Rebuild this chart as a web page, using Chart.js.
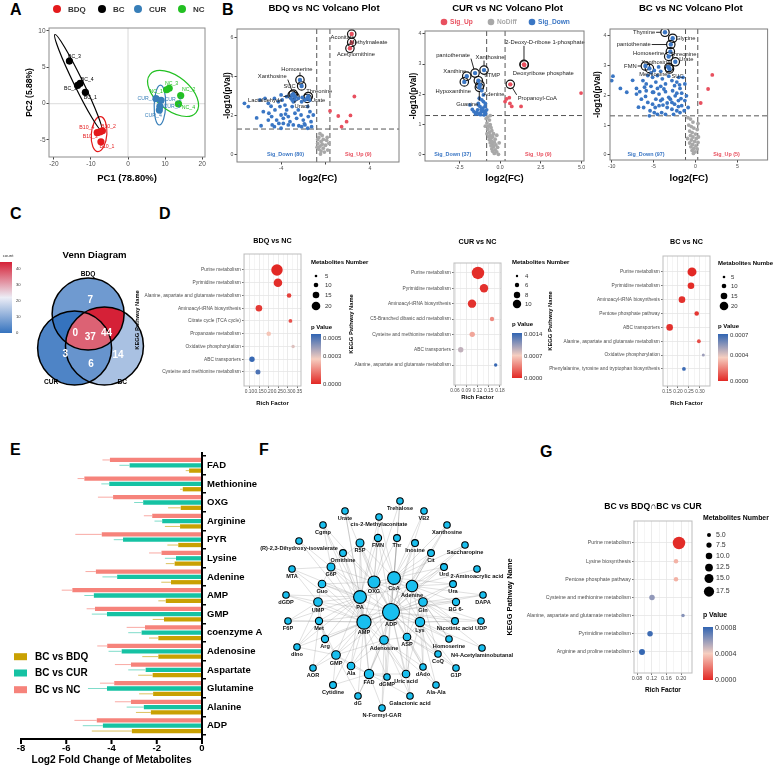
<!DOCTYPE html>
<html>
<head>
<meta charset="utf-8">
<title>Metabolomics figure</title>
<script src="https://cdn.jsdelivr.net/npm/chart.js@4.4.1/dist/chart.umd.min.js"></script>
<style>
  html, body { margin: 0; padding: 0; background: #fff; }
  #fig { position: relative; width: 773px; height: 768px; overflow: hidden; background: #fff; }
  #fig canvas { position: absolute; left: 0; top: 0; }
  .tag { position: absolute; font: bold 16px "Liberation Sans", Arial, sans-serif; line-height: 16px; color: #000; }
</style>
</head>
<body>
<div id="fig">
  <div class="tag" style="left:10px;top:2px">A</div>
  <div class="tag" style="left:222px;top:2px">B</div>
  <div class="tag" style="left:10px;top:206px">C</div>
  <div class="tag" style="left:159px;top:206px">D</div>
  <div class="tag" style="left:10px;top:442px">E</div>
  <div class="tag" style="left:259px;top:442px">F</div>
  <div class="tag" style="left:540px;top:444px">G</div>
</div>
<script>
// ---------------- data ----------------

// A: PCA scores
const pcaGroups = ['BDQ', 'BC', 'CUR', 'NC'];
const pcaNames = [['B10_1', 'B10_2', 'B10_3', 'B10_4'], ['BC_1', 'BC_2', 'BC_3', 'BC_4'], ['CUR_1', 'CUR_2', 'CUR_3', 'CUR_4'], ['NC_1', 'NC_2', 'NC_3', 'NC_4']];
const pcaPC1 = [[-7.3, -6.9, -8.3, -7.6], [-11.5, -13.6, -15.8, -12.9], [7.55, 8.9, 8.6, 8.45], [11.1, 14.2, 10.4, 13.6]];
const pcaPC2 = [[-5.25, -3.75, -4.0, -3.9], [1.55, 2.5, 5.85, 2.8], [0.68, 0.45, -0.37, -0.9], [2.1, 1.1, 1.9, -0.05]];
// confidence ellipses: centre x, centre y, semi-axis 1 (dx, dy), semi-axis 2 (dx, dy)
const pcaEllipse = [
  [-7.8, -4.2, 0.3, 2.4, 2.1, 0],
  [-13.4, 2.9, -6.3, 6.6, 1.09, 0.27],
  [8.6, -0.2, 0.15, 2.75, 1.55, 0],
  [12.15, 1.4, 6.2, -2.63, -2.94, -1.77]
];

// B: volcano plots  [log2FC, -log10 p]
const b1Down = [[-7.3,2.65],[-6.95,2.48],[-5.9,2.82],[-5.45,2.9],[-5.15,2.65],[-4.6,2.9],[-4.55,2.31],[-5.1,2.14],[-5.6,2.22],[-4.85,1.97],[-4.25,2.73],[-4.1,2.48],[-3.9,2.82],[-3.65,2.56],[-3.5,2.31],[-4.0,2.05],[-4.4,1.79],[-4.8,1.54],[-5.15,1.79],[-4.2,1.62],[-3.8,1.88],[-3.35,1.97],[-3.2,1.71],[-3.0,2.48],[-2.75,2.14],[-2.6,1.88],[-2.9,1.54],[-2.45,2.31],[-2.2,2.05],[-2.0,1.79],[-1.85,1.54],[-2.15,1.45],[-1.55,1.97],[-1.4,2.22],[-1.3,1.71],[-1.6,1.37],[-1.25,1.45],[-3.35,1.54],[-3.8,1.62],[-4.0,1.37],[-2.75,2.82],[-2.15,2.73],[-1.6,2.48],[-1.1,2.05],[-4.0,3.08],[-3.5,2.99],[-3.0,2.82],[-2.45,2.9],[-2.1,2.95],[-1.85,2.82],[-1.4,2.82],[-3.1,2.9],[-2.9,2.73],[-5.8,1.5],[-6.2,1.9],[-4.6,1.45],[-1.9,1.6],[-2.4,1.5],[-3.6,2.1],[-4.9,2.5]];
const b1Up = [[0.41,2.26],[1.15,2.0],[2.25,2.03],[1.9,1.71],[1.45,1.45],[2.6,3.0]];
const b1No = [[-0.5,1.1],[-0.3,1.0],[-0.6,0.9],[-0.2,0.8],[-0.4,0.7],[0.1,0.75],[-0.7,0.6],[-0.3,0.55],[-0.5,0.45],[0.0,0.5],[-0.2,0.35],[-0.6,0.3],[-0.4,0.2],[-0.1,0.15],[0.2,0.25],[-0.75,0.4],[0.3,0.6],[-0.7,0.8],[-0.45,0.05],[0.15,0.9]];
const b1Lab = [['Aconitate',2.36,6.2],['Methylmaleate',2.36,5.77],['Acetylornithine',2.2,5.47],['Homoserine',-2.3,3.85],['Xanthosine',-2.9,3.12],['SUC',-2.15,3.54],['Threonine',-1.55,3.0],['Urate',-1.65,2.9],['Uracil',-2.75,2.99],['Lactaldehyde',-3.0,3.07]];
const b1Nudge = [[-9,3],[17,0],[6,6],[-3,-11],[-21,-18],[-12,0],[11,-5],[11,2],[7,10],[-27,5]];

const b2Down = [[-1.27,1.87],[-1.12,1.82],[-1.02,1.76],[-1.33,1.65],[-1.23,1.6],[-1.06,1.54],[-0.92,1.6],[-1.37,1.49],[-1.12,1.43],[-0.92,1.4],[-1.23,1.38],[-1.43,1.4],[-1.84,1.65],[-1.02,1.98],[-1.12,2.12],[-1.33,1.7],[-0.82,1.49],[-1.6,1.43],[-0.98,1.32],[-1.5,1.35],[-1.7,1.5],[-0.9,1.7],[-1.15,1.5],[-1.3,1.35],[-1.0,1.45],[-1.2,1.33],[-0.88,1.36]];
const b2Up = [[4.97,2.04],[1.29,1.6],[0.57,1.89],[0.31,1.76],[0.61,1.7],[0.72,1.6],[0.4,1.85]];
const b2No = [[-0.75,1.25],[-0.65,1.15],[-0.8,1.05],[-0.6,1.0],[-0.7,0.95],[-0.55,0.9],[-0.75,0.85],[-0.5,0.8],[-0.65,0.75],[-0.4,0.7],[-0.6,0.65],[-0.7,0.6],[-0.45,0.6],[-0.55,0.55],[-0.3,0.52],[-0.65,0.5],[-0.5,0.45],[-0.35,0.42],[-0.6,0.4],[-0.45,0.35],[-0.25,0.33],[-0.55,0.3],[-0.4,0.27],[-0.15,0.25],[-0.5,0.2],[-0.3,0.17],[-0.45,0.12],[-0.2,0.1],[-0.35,0.05],[-0.1,0.02],[-0.8,0.7],[-0.9,0.95],[-0.05,0.4],[-0.2,0.65],[-0.85,1.2],[-0.6,1.3]];
const b2Lab = [['2-Deoxy-D-ribose 1-phosphate',1.47,2.99],['Deoxyribose phosphate',1.49,2.97],['Propanoyl-CoA',0.63,2.33],['Xanthosine',-0.98,2.8],['pantothenate',-1.53,2.7],['Xanthine',-2.04,2.6],['Hypoxanthine',-2.19,2.41],['dTMP',-1.33,2.45],['Adenine',-1.23,2.31],['Guanine',-1.27,2.23]];
const b2Nudge = [[21,-22],[19,8],[27,14],[6,-13],[-22,-18],[-12,-5],[-11,9],[14,-5],[14,9],[-12,17]];

const b3Down = [[-10.0,2.49],[-9.85,2.64],[-8.96,2.23],[-7.04,2.23],[-7.04,2.04],[-6.27,2.49],[-6.08,2.27],[-5.88,2.15],[-5.69,2.66],[-5.31,2.75],[-5.12,2.6],[-4.92,2.83],[-4.73,2.44],[-4.54,2.66],[-4.15,2.8],[-3.96,2.55],[-3.58,2.38],[-3.19,2.64],[-2.81,2.49],[-2.5,2.32],[-2.23,2.44],[-1.85,2.23],[-1.65,2.07],[-1.27,2.38],[-1.08,1.98],[-0.88,1.59],[-5.96,1.96],[-5.12,2.1],[-4.73,1.87],[-4.35,2.04],[-3.96,1.87],[-3.58,2.12],[-3.19,1.93],[-2.81,1.76],[-2.42,1.98],[-2.04,1.82],[-1.65,1.65],[-1.35,1.48],[-1.27,1.82],[-4.35,1.65],[-3.88,1.67],[-3.38,1.59],[-2.81,1.53],[-2.23,1.48],[-2.62,1.36],[-4.92,1.42],[-5.5,1.31],[-6.19,1.59],[-4.54,1.36],[-1.85,1.42],[-3.58,1.36],[-3.0,1.87],[-5.12,1.7],[-5.69,1.76],[-6.46,1.87],[-6.65,2.12],[-4.54,2.23],[-5.31,2.3],[-5.88,2.38],[-4.15,2.3],[-3.77,2.21],[-3.38,1.74],[-2.04,1.62],[-1.73,1.89],[-5.42,1.48],[-4.81,1.59],[-4.04,1.42],[-2.73,2.15],[-2.23,2.07],[-4.15,1.82],[-7.5,2.5],[-8.2,2.1],[-6.8,1.6],[-3.3,2.95],[-2.0,2.6],[-1.5,2.6],[-4.4,2.95],[-5.0,2.1],[-2.5,1.7],[-1.9,2.35]];
const b3Up = [[2.0,2.68],[1.5,2.21],[0.62,1.74]];
const b3No = [[-0.9,1.25],[-0.6,1.2],[-0.3,1.1],[0.3,1.05],[-0.8,1.0],[-0.5,0.95],[-0.2,0.9],[0.2,0.85],[-0.7,0.8],[-0.4,0.75],[0.0,0.7],[-0.6,0.65],[-0.3,0.6],[0.1,0.55],[-0.5,0.5],[-0.1,0.45],[0.3,0.42],[-0.7,0.4],[-0.35,0.35],[0.05,0.3],[-0.55,0.27],[-0.2,0.22],[0.2,0.2],[-0.4,0.15],[-0.05,0.1],[-0.25,0.05],[0.35,0.6],[-0.95,0.55]];
const b3Lab = [['Thymine',-3.64,4.11],['Glycine',-2.72,3.91],['pantothenate',-2.95,3.7],['Homoserine',-3.2,3.3],['Threonine',-3.0,3.46],['Urate',-2.41,3.12],['Xanthosine',-3.18,2.93],['FMN',-5.98,2.98],['Methionine',-5.5,2.9],['SUC',-3.1,2.88]];
const b3Nudge = [[-21,0],[13,0],[-37,0],[-20,-3],[13,3],[11,-2],[-13,-5],[-15,0],[4,6],[8,7]];

// C: Venn counts  (sets: BDQ, CUR, BC)
const vennSets = ['BDQ', 'CUR', 'BC'];
const vennRegions = [[0], [1], [2], [0, 1], [0, 2], [1, 2], [0, 1, 2]];
const vennCounts = [7, 3, 14, 0, 44, 6, 37];

// D: KEGG enrichment
const d1Path = ['Purine metabolism', 'Pyrimidine metabolism', 'Alanine, aspartate and glutamate metabolism', 'Aminoacyl-tRNA biosynthesis', 'Citrate cycle (TCA cycle)', 'Propanoate metabolism', 'Oxidative phosphorylation', 'ABC transporters', 'Cysteine and methionine metabolism'];
const d1Rich = [0.243, 0.248, 0.306, 0.149, 0.313, 0.200, 0.327, 0.113, 0.144];
const d1Num = [27, 20, 10, 15, 8, 10, 7, 12, 11];
const d1P = [0.00000, 0.00001, 0.00004, 0.00003, 0.00007, 0.00026, 0.00031, 0.00054, 0.00051];

const d2Path = ['Purine metabolism', 'Pyrimidine metabolism', 'Aminoacyl-tRNA biosynthesis', 'C5-Branched dibasic acid metabolism', 'Cysteine and methionine metabolism', 'ABC transporters', 'Alanine, aspartate and glutamate metabolism'];
const d2Rich = [0.1213, 0.1373, 0.1053, 0.1587, 0.106, 0.0752, 0.1685];
const d2Num = [14, 10, 10, 6, 7, 7, 5];
const d2P = [0.00002, 0.00004, 0.00005, 0.00042, 0.00055, 0.00092, 0.00142];

const d3Path = ['Purine metabolism', 'Pyrimidine metabolism', 'Aminoacyl-tRNA biosynthesis', 'Pentose phosphate pathway', 'ABC transporters', 'Alanine, aspartate and glutamate metabolism', 'Oxidative phosphorylation', 'Phenylalanine, tyrosine and tryptophan biosynthesis'];
const d3Rich = [0.2636, 0.259, 0.218, 0.285, 0.162, 0.295, 0.315, 0.227];
const d3Num = [21, 15, 15, 10, 15, 8, 6, 8];
const d3P = [0.00000, 0.00001, 0.00002, 0.00003, 0.00002, 0.00008, 0.00052, 0.00070];

// E: log2 fold change (mean, sd)
const eMetab = ['FAD', 'Methionine', 'OXG', 'Arginine', 'PYR', 'Lysine', 'Adenine', 'AMP', 'GMP', 'coenzyme A', 'Adenosine', 'Aspartate', 'Glutamine', 'Alanine', 'ADP'];
const eNC = [-4.07, -5.2, -3.93, -2.2, -4.43, -1.79, -4.69, -5.73, -4.73, -2.52, -4.19, -3.14, -3.88, -3.14, -4.65];
const eNCsd = [0.33, 0.3, 0.67, 0.37, 1.17, 0.55, 0.46, 0.47, 0.37, 0.81, 0.44, 0.71, 0.63, 0.71, 0.99];
const eCUR = [-3.2, -4.1, -2.6, -1.76, -3.49, -1.15, -3.75, -4.78, -4.2, -2.67, -3.55, -2.49, -4.2, -2.57, -4.38];
const eCURsd = [0.45, 0.35, 0.4, 0.34, 0.41, 0.49, 0.65, 0.42, 0.67, 0.59, 0.58, 0.77, 0.84, 0.76, 0.89];
const eBDQ = [-0.57, -0.85, -0.94, -0.97, -1.05, -1.21, -1.37, -1.6, -1.68, -1.93, -1.93, -2.18, -2.16, -2.26, -3.1];
const eBDQsd = [0.15, 0.12, 0.56, 0.67, 0.48, 0.39, 0.43, 0.33, 0.5, 0.41, 0.71, 0.64, 0.62, 0.66, 1.77];

// F: correlation network (layout position, node weight)
const fNames = ['Trehalose','Urate','VB2','cis-2-Methylaconitate','Cgmp','Xanthosine','(R)-2,3-Dihydroxy-isovalerate','R5P','FMN','Thr','Inosine','Saccharopine','Ornithine','Cit','G6P','MTA','Urd','2-Aminoacrylic acid','OXG','CoA','Adenine','Guo','Ura','dGDP','PA','DAPA','UMP','Gln','BG 6-','ADP','F6P','Met','AMP','Lys','Nicotinic acid','UDP','Arg','Adenosine','ASP','Homoserine','dIno','N4-Acetylaminobutanal','GMP','CoQ','AOR','Ala','dAdo','G1P','FAD','dGMP','Uric acid','Cytidine','Ala-Ala','dG','Galactonic acid','N-Formyl-GAR'];
const fX = [400,345,424,379,323,447,299,360,378,397,415,465,343,431,331,292,444,477,374,394,412,322,453,286,360,483,318,423,456,391,288,319,364,420,455,481,325,384,407,449,297,482,336,438,313,351,423,456,369,387,406,333,436,358,410,382];
const fY = [501,511,511,517,525,525,541,543,538,538,543,545,553,553,567,569,567,569,582,578,586,584,584,595,597,595,602,602,602,612,621,621,622,622,621,621,639,640,637,639,647,648,655,654,668,666,667,668,674,677,674,685,685,696,696,708];
const fWeight = [1,1,1,1,1,1,1,3,2,1.5,1.5,1,1.5,1.5,3,1,1.5,1,9,10,8,2.5,1.5,1,10,1,4,4,2,16,1,2,12,5,1.5,1,2,4,2.5,1,1,1,4,1,1,2.5,1,1,5,1,2.5,1.5,1,1,1,1];
const fEdges = {
  'ADP': ['AMP','PA','CoA','OXG','Adenine','Gln','Lys','Adenosine','ASP','GMP','FAD','UMP','Met','Guo','G6P','R5P','FMN','Thr','Inosine','Cit','Urd','Ura','BG 6-','Nicotinic acid','Homoserine','dAdo','Uric acid','dGMP','Ala','Arg','Trehalose','VB2','Xanthosine','Saccharopine','DAPA','UDP','G1P','CoQ','N-Formyl-GAR','Galactonic acid'],
  'AMP': ['PA','CoA','OXG','Adenine','Gln','Lys','Adenosine','GMP','FAD','UMP','Met','Guo','G6P','R5P','Ornithine','Arg','Ala','dIno','F6P','dGDP','AOR','Cytidine','dG','MTA','Cgmp','Urate','(R)-2,3-Dihydroxy-isovalerate','Uric acid','dGMP'],
  'PA': ['CoA','OXG','Adenine','UMP','Guo','G6P','R5P','Ornithine','Met','Arg','GMP','FAD','Ala','MTA','dGDP','F6P','Cgmp','Urate','cis-2-Methylaconitate','FMN','Adenosine','dIno'],
  'CoA': ['OXG','Adenine','Gln','Lys','FMN','Thr','Inosine','Cit','Trehalose','VB2','cis-2-Methylaconitate','Urd','Xanthosine','Saccharopine','Ura','ASP','Adenosine','R5P'],
  'OXG': ['Adenine','Gln','R5P','FMN','Thr','Ornithine','G6P','Guo','Urate','Cgmp','cis-2-Methylaconitate','Trehalose','Lys','ASP','Adenosine'],
  'Adenine': ['Gln','Lys','Inosine','Cit','Urd','Ura','2-Aminoacrylic acid','BG 6-','Xanthosine','Saccharopine','DAPA','Nicotinic acid','ASP','Homoserine'],
  'Gln': ['Lys','Ura','BG 6-','Nicotinic acid','UDP','DAPA','Homoserine','N4-Acetylaminobutanal','ASP','CoQ','dAdo'],
  'Lys': ['ASP','Homoserine','Nicotinic acid','N4-Acetylaminobutanal','CoQ','dAdo','G1P','Ala-Ala','Uric acid','UDP'],
  'Adenosine': ['ASP','FAD','GMP','Ala','dGMP','Uric acid','dAdo','Galactonic acid','N-Formyl-GAR','dG','Ala-Ala'],
  'GMP': ['Arg','Ala','FAD','AOR','Cytidine','dG','dIno','Met'],
  'UMP': ['Met','Guo','dGDP','F6P','MTA','Arg','dIno'],
  'FAD': ['Ala','dGMP','dG','N-Formyl-GAR','Cytidine','Uric acid','Galactonic acid'],
  'ASP': ['dAdo','Uric acid','CoQ','Ala-Ala','G1P','Galactonic acid'],
  'G6P': ['Guo','R5P','Ornithine','MTA','Cgmp','(R)-2,3-Dihydroxy-isovalerate'],
  'Met': ['Arg','F6P','dIno','AOR']
};

// G: shared enrichment
const gPath = ['Purine metabolism', 'Lysine biosynthesis', 'Pentose phosphate pathway', 'Cysteine and methionine metabolism', 'Alanine, aspartate and glutamate metabolism', 'Pyrimidine metabolism', 'Arginine and proline metabolism'];
const gRich = [0.1945, 0.1864, 0.1864, 0.1209, 0.2055, 0.1155, 0.0936];
const gNum = [22, 6, 6, 8, 4, 8, 9];
const gP = [0.00001, 0.00034, 0.00034, 0.00062, 0.00064, 0.00079, 0.00081];

// ---------------- helpers ----------------
const W = 773, H = 768;
const FF = '"Liberation Sans", Arial, Helvetica, sans-serif';
Chart.defaults.font.family = FF;
Chart.defaults.color = '#333';
Chart.defaults.animation = false;
Chart.defaults.responsive = false;
Chart.defaults.maintainAspectRatio = false;
Chart.defaults.events = [];
Chart.defaults.plugins.legend.display = false;
Chart.defaults.plugins.tooltip.enabled = false;

const fig = document.getElementById('fig');
function newCanvas() {
  const c = document.createElement('canvas');
  c.width = W; c.height = H;
  fig.appendChild(c);
  return c;
}
// place the plot area at page coords (l,t)-(r,b); yw / xh = axis box sizes
function pad(l, t, r, b, yw, xh) { return { padding: { left: l - yw, top: t, right: W - r, bottom: H - b - xh } }; }
const fitW = w => s => { s.width = w; s.paddingTop = 0; s.paddingBottom = 0; };
const fitH = h => s => { s.height = h; s.paddingLeft = 0; s.paddingRight = 0; };
const fnt = (size, bold) => (bold ? 'bold ' : '') + size + 'px ' + FF;
function txt(ctx, s, x, y, size, bold, color, align) {
  ctx.save();
  ctx.font = fnt(size, bold); ctx.fillStyle = color || '#000';
  ctx.textAlign = align || 'center'; ctx.textBaseline = 'middle';
  ctx.fillText(s, x, y);
  ctx.restore();
}
function frame(c, color) {
  const a = c.chartArea, ctx = c.ctx;
  ctx.save(); ctx.strokeStyle = color; ctx.lineWidth = 1;
  ctx.strokeRect(a.left, a.top, a.right - a.left, a.bottom - a.top);
  ctx.restore();
}
function dot(ctx, x, y, r, fill) { ctx.beginPath(); ctx.arc(x, y, r, 0, Math.PI * 2); ctx.fillStyle = fill; ctx.fill(); }
function ramp(stops, t) {
  t = Math.max(0, Math.min(1, t));
  for (let k = 1; k < stops.length; k++) {
    if (t <= stops[k][0]) {
      const [t0, c0] = stops[k - 1], [t1, c1] = stops[k], f = (t - t0) / (t1 - t0);
      return 'rgb(' + c0.map((v, i) => Math.round(v + (c1[i] - v) * f)).join(',') + ')';
    }
  }
  return 'rgb(' + stops[stops.length - 1][1].join(',') + ')';
}
const P_STOPS = [[0, [226, 40, 36]], [0.5, [246, 206, 192]], [1, [48, 100, 178]]];
const C_STOPS = [[0, [53, 115, 190]], [0.5, [236, 237, 246]], [1, [213, 33, 55]]];

function linX(o) {
  return {
    type: 'linear', min: o.min, max: o.max, afterFit: fitH(o.h),
    ticks: { stepSize: o.step, includeBounds: false, autoSkip: false, maxRotation: 0, font: { size: o.fs }, color: '#4d4d4d', padding: 0.5, callback: o.cb || (v => v) },
    grid: { drawOnChartArea: false, tickLength: 2.5, color: '#444' },
    border: { display: false },
    title: { display: true, text: o.title, color: '#000', font: { size: o.ts, weight: 'bold' }, padding: { top: 0, bottom: o.tpad } }
  };
}
function linY(o) {
  return {
    type: 'linear', min: o.min, max: o.max, afterFit: fitW(o.w),
    ticks: { stepSize: o.step, includeBounds: false, autoSkip: false, font: { size: o.fs }, color: '#4d4d4d', padding: 1 },
    grid: { drawOnChartArea: false, tickLength: 2.5, color: '#444' },
    border: { display: false },
    title: { display: true, text: o.title, color: '#000', font: { size: o.ts, weight: 'bold' }, padding: { top: o.tpad, bottom: 0 } }
  };
}

// ---------------- A: PCA ----------------
const pcaColors = ['#e41a1c', '#000000', '#377eb8', '#22c022'];
const pcaLabNudge = [[[6,5],[6,-4],[-7,4],[-13,-4]], [[5,5],[-7,3],[5,-4],[7,-4]], [[-10,0],[12,-1],[12,0],[-6,5]], [[-13,3],[8,-6],[5,-6],[10,4]]];
new Chart(newCanvas(), {
  type: 'scatter',
  data: { datasets: pcaGroups.map((g, i) => ({ label: g, data: pcaPC1[i].map((v, j) => ({ x: v, y: pcaPC2[i][j] })), backgroundColor: pcaColors[i], borderWidth: 0, pointRadius: 3.6 })) },
  options: {
    layout: pad(49, 28, 205, 157, 31, 31),
    scales: {
      x: linX({ min: -21.3, max: 20.75, step: 10, h: 31, title: 'PC1 (78.80%)', ts: 9.5, tpad: 4.3, fs: 6.5 }),
      y: linY({ min: -7.35, max: 10.4, step: 5, w: 31, title: 'PC2 (5.88%)', ts: 8.5, tpad: 7, fs: 6.5 })
    }
  },
  plugins: [{
    id: 'pca',
    beforeDatasetsDraw(c) {
      const { ctx, chartArea: a, scales: { x, y } } = c;
      ctx.save();
      ctx.strokeStyle = '#e2e2e2'; ctx.lineWidth = 1.3;
      const x0 = x.getPixelForValue(0), y0 = y.getPixelForValue(0);
      ctx.beginPath(); ctx.moveTo(x0, a.top); ctx.lineTo(x0, a.bottom); ctx.moveTo(a.left, y0); ctx.lineTo(a.right, y0); ctx.stroke();
      pcaEllipse.forEach((e, i) => {
        const cx = x.getPixelForValue(e[0]), cy = y.getPixelForValue(e[1]);
        const ux = x.getPixelForValue(e[0] + e[2]) - cx, uy = y.getPixelForValue(e[1] + e[3]) - cy;
        const vx = x.getPixelForValue(e[0] + e[4]) - cx, vy = y.getPixelForValue(e[1] + e[5]) - cy;
        ctx.save(); ctx.transform(ux, uy, vx, vy, cx, cy);
        ctx.beginPath(); ctx.arc(0, 0, 1, 0, Math.PI * 2);
        ctx.restore();
        ctx.strokeStyle = pcaColors[i]; ctx.lineWidth = 1.2; ctx.stroke();
      });
      ctx.restore();
    },
    afterDatasetsDraw(c) {
      const { ctx, scales: { x, y } } = c;
      pcaNames.forEach((g, i) => g.forEach((n, j) => {
        txt(ctx, n, x.getPixelForValue(pcaPC1[i][j]) + pcaLabNudge[i][j][0], y.getPixelForValue(pcaPC2[i][j]) + pcaLabNudge[i][j][1], 5.2, false, pcaColors[i]);
      }));
    },
    afterDraw(c) {
      frame(c, '#8c8c8c');
      const ctx = c.ctx, lx = [57, 102, 138, 182];
      pcaGroups.forEach((g, i) => { dot(ctx, lx[i], 9, 4, pcaColors[i]); txt(ctx, g, lx[i] + 11, 9.5, 8, true, '#333', 'left'); });
    }
  }]
});

// ---------------- B: volcano plots ----------------
const RED = '#e8505f', BLUE = '#3a76c4', GREY = '#a8a8a8';
function volcano(o) {
  const xy = arr => arr.map(p => ({ x: p[0], y: p[1] }));
  const labXY = o.lab.map(l => ({ x: l[1], y: l[2] }));
  new Chart(newCanvas(), {
    type: 'scatter',
    data: { datasets: [
      { data: xy(o.no), backgroundColor: GREY, pointRadius: 1.9, borderWidth: 0 },
      { data: xy(o.down), backgroundColor: BLUE, pointRadius: 1.9, borderWidth: 0 },
      { data: xy(o.up), backgroundColor: RED, pointRadius: 1.9, borderWidth: 0 },
      { data: labXY, backgroundColor: o.lab.map(l => l[1] > 0 ? RED : BLUE), pointRadius: 2.2, borderWidth: 0 },
      { data: labXY, backgroundColor: 'rgba(0,0,0,0)', borderColor: '#111', borderWidth: 1.2, pointRadius: 4.2 }
    ] },
    options: {
      layout: pad(o.l, o.t, o.r, o.b, o.yw, o.xh),
      scales: {
        x: linX({ min: o.xmin, max: o.xmax, step: o.xstep, h: o.xh, title: 'log2(FC)', ts: 9.5, tpad: o.xtp, fs: 5.2, cb: o.xcb }),
        y: linY({ min: o.ymin, max: o.ymax, step: o.ystep, w: o.yw, title: '-log10(pVal)', ts: 8.2, tpad: o.ytp, fs: 5.2 })
      }
    },
    plugins: [{
      id: 'volcano',
      beforeDatasetsDraw(c) {
        const { ctx, chartArea: a, scales: { x, y } } = c;
        ctx.save(); ctx.setLineDash([5, 3]); ctx.strokeStyle = '#555'; ctx.lineWidth = 1;
        ctx.beginPath();
        o.vlines.forEach(v => { const px = x.getPixelForValue(v); ctx.moveTo(px, a.top); ctx.lineTo(px, a.bottom); });
        const py = y.getPixelForValue(o.hline); ctx.moveTo(a.left, py); ctx.lineTo(a.right, py);
        ctx.stroke(); ctx.restore();
      },
      afterDatasetsDraw(c) {
        const { ctx, scales: { x, y } } = c;
        ctx.save(); ctx.font = fnt(5.8, false);
        o.lab.forEach((l, i) => {
          const px = x.getPixelForValue(l[1]), py = y.getPixelForValue(l[2]);
          const lx = px + o.nudge[i][0], ly = py + o.nudge[i][1];
          const w = ctx.measureText(l[0]).width;
          const ex = Math.max(lx - w / 2 - 1, Math.min(px, lx + w / 2 + 1)), ey = Math.max(ly - 3.5, Math.min(py, ly + 3.5));
          const d = Math.hypot(ex - px, ey - py);
          if (d > 6) {
            ctx.beginPath(); ctx.moveTo(px + (ex - px) * 4.2 / d, py + (ey - py) * 4.2 / d); ctx.lineTo(ex, ey);
            ctx.strokeStyle = '#111'; ctx.lineWidth = 0.9; ctx.stroke();
          }
          txt(ctx, l[0], lx, ly, 5.8, false, '#222');
        });
        ctx.restore();
        o.sig.forEach(s => txt(ctx, s[0], x.getPixelForValue(s[1]), y.getPixelForValue(s[2]), 5.4, true, s[3]));
      },
      afterDraw(c) {
        frame(c, '#7f7f7f');
        const a = c.chartArea, ctx = c.ctx;
        txt(ctx, o.title, (a.left + a.right) / 2 + o.tdx, 8.5, 9.6, true, '#000');
        if (o.legend) {
          const items = [['Sig_Up', RED, 444], ['NoDiff', GREY, 491], ['Sig_Down', BLUE, 532]];
          items.forEach(it => { dot(ctx, it[2], 22, 3.3, it[1]); txt(ctx, it[0], it[2] + 6, 22.5, 6.6, true, it[1], 'left'); });
        }
      }
    }]
  });
}
volcano({ title: 'BDQ vs NC Volcano Plot', tdx: 6, down: b1Down, up: b1Up, no: b1No, lab: b1Lab, nudge: b1Nudge,
  l: 237, t: 29, r: 399, b: 162, yw: 18, xh: 26, xtp: 4.3, ytp: 4.3,
  xmin: -7.97, xmax: 6.62, xstep: 4, ymin: -0.36, ymax: 6.46, ystep: 2, xcb: v => (v === 0 ? '' : v),
  vlines: [-0.79, 0.4], hline: 1.33,
  sig: [['Sig_Down (80)', -3.6, 0.0, BLUE], ['Sig_Up (9)', 2.95, 0.0, RED]] });
volcano({ title: 'CUR vs NC Volcano Plot', tdx: 3, legend: true, down: b2Down, up: b2Up, no: b2No, lab: b2Lab, nudge: b2Nudge,
  l: 425, t: 31, r: 584, b: 161, yw: 20, xh: 27, xtp: 4.3, ytp: 4.2,
  xmin: -4.6, xmax: 5.15, xstep: 2.5, ymin: -0.2, ymax: 4.09, ystep: 1, xcb: v => v.toFixed(1),
  vlines: [-0.82, 0.31], hline: 1.3,
  sig: [['Sig_Down (37)', -2.9, 0.0, BLUE], ['Sig_Up (9)', 2.35, 0.0, RED]] });
volcano({ title: 'BC vs NC Volcano Plot', tdx: 2, down: b3Down, up: b3Up, no: b3No, lab: b3Lab, nudge: b3Nudge,
  l: 610, t: 29, r: 770, b: 160, yw: 20, xh: 28, xtp: 4.3, ytp: 3.2,
  xmin: -10.2, xmax: 8.6, xstep: 5, ymin: -0.17, ymax: 4.22, ystep: 1,
  vlines: [-1.19, 0.27], hline: 1.31,
  sig: [['Sig_Down (97)', -5.9, 0.0, BLUE], ['Sig_Up (5)', 3.7, 0.0, RED]] });

// ---------------- C: Venn diagram ----------------
const vennCentre = [[67, 74], [48, 108], [90, 106]];   // layout, local units
const vennRadius = [36, 37, 39];
const vennLabelPos = [[70, 60], [35, 114], [109, 115], [49, 93], [93, 93], [71, 124], [70, 97]];
const vennMax = 44;
new Chart(newCanvas(), {
  type: 'bubble',
  data: { datasets: [{ data: vennCentre.map((p, i) => ({ x: p[0], y: p[1], r: vennRadius[i] })), backgroundColor: 'rgba(0,0,0,0)', borderColor: '#000', borderWidth: 1.5, clip: false }] },
  options: {
    layout: { padding: { left: 0, top: 240, right: W - 140, bottom: H - 400 } },
    scales: { x: { display: false, min: 0, max: 140 }, y: { display: false, min: 0, max: 160, reverse: true } }
  },
  plugins: [{
    id: 'venn',
    beforeDatasetsDraw(c) {
      const ctx = c.ctx, els = c.getDatasetMeta(0).data;
      vennRegions.forEach((inSet, k) => {
        ctx.save();
        els.forEach((e, i) => {
          ctx.beginPath();
          if (inSet.includes(i)) { ctx.arc(e.x, e.y, vennRadius[i], 0, Math.PI * 2); ctx.clip(); }
          else { ctx.rect(0, 0, W, H); ctx.arc(e.x, e.y, vennRadius[i], 0, Math.PI * 2, true); ctx.clip('evenodd'); }
        });
        ctx.fillStyle = ramp(C_STOPS, vennCounts[k] / vennMax);
        ctx.fillRect(0, 0, W, H);
        ctx.restore();
      });
    },
    afterDatasetsDraw(c) {
      const { ctx, scales: { x, y } } = c;
      vennCounts.forEach((n, k) => txt(ctx, String(n), x.getPixelForValue(vennLabelPos[k][0]), y.getPixelForValue(vennLabelPos[k][1]), 10, true, '#fff'));
      txt(ctx, 'Venn Diagram', x.getPixelForValue(76), y.getPixelForValue(15), 9.6, true, '#000');
      txt(ctx, vennSets[0], x.getPixelForValue(67), y.getPixelForValue(34), 6.6, true, '#000');
      txt(ctx, vennSets[1], x.getPixelForValue(15), y.getPixelForValue(142), 6.6, true, '#000');
      txt(ctx, vennSets[2], x.getPixelForValue(115), y.getPixelForValue(142), 6.6, true, '#000');
      // colour bar
      const top = 262, bot = 333;
      const g = ctx.createLinearGradient(0, bot, 0, top);
      [0, 0.25, 0.5, 0.75, 1].forEach(t => g.addColorStop(t, ramp(C_STOPS, t)));
      ctx.fillStyle = g; ctx.fillRect(0, top, 12, bot - top);
      [0, 10, 20, 30, 40].forEach(v => txt(ctx, String(v), 16, bot - v / vennMax * (bot - top), 4.2, false, '#333', 'left'));
      txt(ctx, 'count', 8, 256, 4.4, false, '#333');
    }
  }]
});

// ---------------- D / G: enrichment bubble plots ----------------
function bubble(o) {
  const rad = n => o.ra * n + o.rb;
  const isMajor = v => o.xmajor.some(m => Math.abs(m - v) < 1e-6);
  const grid = o.xmajor.concat(o.xminor).sort((a, b) => a - b);
  new Chart(newCanvas(), {
    type: 'bubble',
    data: { datasets: [{ data: o.cats.map((c, i) => ({ x: o.rich[i], y: i, r: rad(o.num[i]) })), backgroundColor: o.p.map(p => ramp(P_STOPS, p / o.pmax)), borderWidth: 0, clip: false }] },
    options: {
      layout: pad(o.l, o.t, o.r, o.b, o.yw, o.xh),
      scales: {
        x: {
          type: 'linear', min: o.xmin, max: o.xmax, afterFit: fitH(o.xh),
          afterBuildTicks: s => { s.ticks = grid.map(v => ({ value: v })); },
          ticks: { autoSkip: false, maxRotation: 0, font: { size: o.tf }, color: '#4d4d4d', padding: 0.5, callback: v => (isMajor(v) ? v.toFixed(2) : '') },
          grid: { color: '#e6e6e6', lineWidth: c => (c.tick && isMajor(c.tick.value) ? 0.8 : 0.4), tickLength: 2, tickColor: c => (c.tick && isMajor(c.tick.value) ? '#555' : 'rgba(0,0,0,0)') },
          border: { display: false },
          title: { display: true, text: 'Rich Factor', color: '#000', font: { size: o.xtf, weight: 'bold' }, padding: { top: 0, bottom: o.xtp } }
        },
        y: {
          type: 'linear', reverse: true, min: o.ymin, max: o.ymax, afterFit: fitW(o.yw),
          afterBuildTicks: s => { s.ticks = o.cats.map((c, i) => ({ value: i })); },
          ticks: { autoSkip: false, font: { size: o.cf }, color: '#4d4d4d', padding: 1.2, callback: v => o.cats[v] },
          grid: { color: '#e6e6e6', lineWidth: 0.8, tickLength: 2, tickColor: '#555' },
          border: { display: false },
          title: { display: true, text: 'KEGG Pathway Name', color: '#000', font: { size: o.ytf, weight: 'bold' }, padding: { top: o.ytp, bottom: 0 } }
        }
      }
    },
    plugins: [{
      id: 'enrich',
      afterDraw(c) {
        const ctx = c.ctx, L = o.leg;
        frame(c, '#bdbdbd');
        txt(ctx, o.title, o.tx, o.ty, o.ttf, true, '#000');
        txt(ctx, 'Metabolites Number', L.x, L.ty, L.fs, true, '#000', 'left');
        o.sizes.forEach((n, i) => { dot(ctx, L.dx, L.sy[i], rad(n), '#000'); txt(ctx, o.sizeLab[i], L.lx, L.sy[i], L.ls, false, '#333', 'left'); });
        txt(ctx, 'p Value', L.x, L.py, L.fs, true, '#000', 'left');
        const g = ctx.createLinearGradient(0, L.bt + L.bh, 0, L.bt);
        [0, 0.25, 0.5, 0.75, 1].forEach(t => g.addColorStop(t, ramp(P_STOPS, t)));
        ctx.fillStyle = g; ctx.fillRect(L.x, L.bt, 10, L.bh);
        o.pticks.forEach(v => txt(ctx, v.toFixed(4), L.x + 12, L.bt + L.bh - v / o.pmax * L.bh, L.ls, false, '#333', 'left'));
      }
    }]
  });
}
bubble({ cats: d1Path, rich: d1Rich, num: d1Num, p: d1P, pmax: 0.00055, ra: 0.2, rb: 0.3,
  l: 244, t: 254, r: 301, b: 386, yw: 112, xh: 22, ytp: 1.5, xtp: 1.5, ymin: -1.25, ymax: 9.1,
  xmin: 0.0714, xmax: 0.368, xmajor: [0.10, 0.15, 0.20, 0.25, 0.30, 0.35], xminor: [0.075, 0.125, 0.175, 0.225, 0.275, 0.325],
  tf: 4.8, cf: 4.8, xtf: 5.9, ytf: 5.8, title: 'BDQ vs NC', tx: 272.5, ty: 241, ttf: 7.2,
  sizes: [5, 10, 15, 20], sizeLab: ['5', '10', '15', '20'], pticks: [0.0005, 0.0003, 0],
  leg: { x: 311, ty: 262, fs: 6, dx: 316, lx: 325, ls: 6, sy: [276, 285, 295, 306], py: 327, bt: 334, bh: 50 } });
bubble({ cats: d2Path, rich: d2Rich, num: d2Num, p: d2P, pmax: 0.00145, ra: 0.5, rb: -0.8,
  l: 454, t: 263, r: 501, b: 385, yw: 108, xh: 17, ytp: 1.5, xtp: 1.5, ymin: -0.65, ymax: 7.3,
  xmin: 0.0573, xmax: 0.1827, xmajor: [0.06, 0.09, 0.12, 0.15, 0.18], xminor: [0.075, 0.105, 0.135, 0.165],
  tf: 4.8, cf: 4.8, xtf: 5.9, ytf: 5.8, title: 'CUR vs NC', tx: 477.5, ty: 242, ttf: 7.2,
  sizes: [4, 6, 8, 10], sizeLab: ['4', '6', '8', '10'], pticks: [0.0014, 0.0007, 0],
  leg: { x: 512, ty: 262, fs: 6, dx: 517, lx: 525, ls: 6, sy: [276, 285, 295, 304], py: 324, bt: 333, bh: 45 } });
bubble({ cats: d3Path, rich: d3Rich, num: d3Num, p: d3P, pmax: 0.00072, ra: 0.2, rb: 0.3,
  l: 663, t: 256, r: 710, b: 386, yw: 118, xh: 22, ytp: 1.5, xtp: 1.5, ymin: -1.15, ymax: 8.23,
  xmin: 0.1318, xmax: 0.3455, xmajor: [0.15, 0.20, 0.25, 0.30], xminor: [0.175, 0.225, 0.275, 0.325],
  tf: 4.8, cf: 4.8, xtf: 5.9, ytf: 5.8, title: 'BC vs NC', tx: 686.5, ty: 242, ttf: 7.2,
  sizes: [5, 10, 15, 20], sizeLab: ['5', '10', '15', '20'], pticks: [0.0007, 0.0004, 0],
  leg: { x: 718, ty: 263, fs: 6, dx: 724, lx: 731, ls: 6, sy: [277, 286, 296, 306], py: 326, bt: 334, bh: 47 } });
bubble({ cats: gPath, rich: gRich, num: gNum, p: gP, pmax: 0.00082, ra: 0.25, rb: 0.75,
  l: 634, t: 521, r: 692, b: 673, yw: 129, xh: 22, ytp: 0.5, xtp: 1.1, ymin: -1.21, ymax: 7.16,
  xmin: 0.0718, xmax: 0.23, xmajor: [0.08, 0.12, 0.16, 0.20], xminor: [0.10, 0.14, 0.18, 0.22],
  tf: 5.5, cf: 5.2, xtf: 6.5, ytf: 7.5, title: 'BC vs BDQ\u2229BC vs CUR', tx: 653, ty: 507, ttf: 8.6,
  sizes: [5, 7.5, 10, 12.5, 15, 17.5], sizeLab: ['5.0', '7.5', '10.0', '12.5', '15.0', '17.5'], pticks: [0.0008, 0.0004, 0],
  leg: { x: 703, ty: 518, fs: 6.9, dx: 709, lx: 716, ls: 7, sy: [535, 545, 556, 567.5, 578.5, 591.5], py: 615.5, bt: 627, bh: 53 } });

// ---------------- E: fold-change bars ----------------
const eColors = ['#f6837b', '#16c2a3', '#c9a102'];
const eErrColors = ['#f9aaa4', '#7fdcca', '#dcc25e'];
const eSeries = [eNC, eCUR, eBDQ], eSd = [eNCsd, eCURsd, eBDQsd];
const eNames = ['BC vs NC', 'BC vs CUR', 'BC vs BDQ'];
new Chart(newCanvas(), {
  type: 'bar',
  data: { labels: eMetab, datasets: eSeries.map((d, i) => ({ label: eNames[i], data: d, backgroundColor: eColors[i] })) },
  options: {
    indexAxis: 'y',
    layout: { padding: { left: 21, top: 456, right: W - 202 - 75, bottom: H - 735 - 33 } },
    datasets: { bar: { categoryPercentage: 0.86, barPercentage: 0.8 } },
    scales: {
      x: {
        type: 'linear', min: -8, max: 0, afterFit: fitH(33),
        ticks: { stepSize: 2, font: { size: 9.5, weight: 'bold' }, color: '#000', padding: 8, maxRotation: 0 },
        grid: { display: false, drawTicks: false }, border: { display: false },
        title: { display: true, text: 'Log2 Fold Change of Metabolites', color: '#000', font: { size: 10.2, weight: 'bold' }, padding: { top: 0, bottom: 1.5 } }
      },
      y: {
        position: 'right', afterFit: fitW(75),
        ticks: { font: { size: 9.5, weight: 'bold' }, color: '#000', padding: 1, autoSkip: false },
        grid: { drawOnChartArea: false, tickLength: 4, color: '#000', lineWidth: 1.5 },
        border: { display: false }
      }
    }
  },
  plugins: [{
    id: 'fc',
    afterDatasetsDraw(c) {
      const ctx = c.ctx, x = c.scales.x;
      ctx.save(); ctx.lineWidth = 1;
      eSeries.forEach((d, i) => c.getDatasetMeta(i).data.forEach((el, j) => {
        ctx.strokeStyle = eErrColors[i];
        ctx.beginPath(); ctx.moveTo(el.x, el.y); ctx.lineTo(x.getPixelForValue(d[j] - eSd[i][j]), el.y); ctx.stroke();
      }));
      ctx.restore();
    },
    afterDraw(c) {
      const ctx = c.ctx, x = c.scales.x, a = c.chartArea;
      ctx.save(); ctx.strokeStyle = '#000'; ctx.lineWidth = 2;
      ctx.beginPath(); ctx.moveTo(a.right, a.top - 4); ctx.lineTo(a.right, a.bottom + 5);
      ctx.moveTo(x.getPixelForValue(-8) - 1, a.bottom + 4); ctx.lineTo(a.right + 1, a.bottom + 4);
      [-8, -6, -4, -2, 0].forEach(v => { const px = x.getPixelForValue(v); ctx.moveTo(px, a.bottom + 4); ctx.lineTo(px, a.bottom + 9); });
      ctx.stroke(); ctx.restore();
      const ly = [656.7, 673, 689.7];
      [2, 1, 0].forEach((k, i) => {
        ctx.fillStyle = eColors[k]; ctx.fillRect(14, ly[i] - 3.5, 13, 7);
        txt(ctx, eNames[k], 35, ly[i] + 0.5, 10, true, '#000', 'left');
      });
    }
  }]
});

// ---------------- F: network ----------------
const fRadius = w => 2.9 + 0.35 * w;
new Chart(newCanvas(), {
  type: 'scatter',
  data: { datasets: [{ data: fX.map((v, i) => ({ x: v, y: fY[i] })), pointRadius: fWeight.map(fRadius), backgroundColor: '#19bfef', borderColor: '#000', borderWidth: 1.1, clip: false }] },
  options: {
    layout: { padding: { left: 260, top: 490, right: W - 510, bottom: H - 720 } },
    scales: { x: { display: false, min: 260, max: 510 }, y: { display: false, min: 490, max: 720, reverse: true } }
  },
  plugins: [{
    id: 'net',
    beforeDatasetsDraw(c) {
      const { ctx, scales: { x, y } } = c;
      ctx.save(); ctx.strokeStyle = 'rgba(140,140,140,0.45)'; ctx.lineWidth = 0.6;
      ctx.beginPath();
      Object.keys(fEdges).forEach(s => {
        const i = fNames.indexOf(s);
        fEdges[s].forEach(t => {
          const j = fNames.indexOf(t);
          ctx.moveTo(x.getPixelForValue(fX[i]), y.getPixelForValue(fY[i]));
          ctx.lineTo(x.getPixelForValue(fX[j]), y.getPixelForValue(fY[j]));
        });
      });
      ctx.stroke(); ctx.restore();
    },
    afterDatasetsDraw(c) {
      const { ctx, scales: { x, y } } = c;
      fNames.forEach((n, i) => txt(ctx, n, x.getPixelForValue(fX[i]), y.getPixelForValue(fY[i]) + fRadius(fWeight[i]) + 3.8, 5.6, true, '#111'));
    }
  }]
});
</script>
</body>
</html>
